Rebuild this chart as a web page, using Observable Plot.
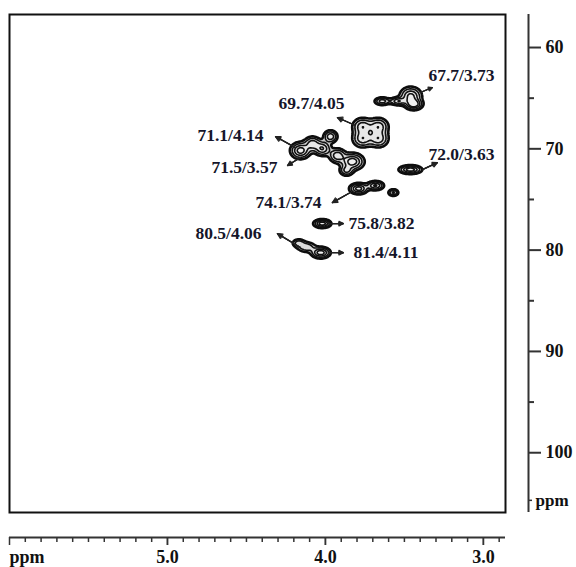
<!DOCTYPE html>
<html>
<head>
<meta charset="utf-8">
<script src="https://cdn.jsdelivr.net/npm/d3@7"></script>
<script src="https://cdn.jsdelivr.net/npm/@observablehq/plot@0.6"></script>
<style>
  html, body { margin: 0; padding: 0; background: #fff; }
</style>
</head>
<body>
<div id="chart"></div>
<script>
// ---- Data (1H ppm, 13C ppm) ----
// Cross-peak components (estimated from the spectrum)
const peakH   = [3.64, 3.54, 3.46, 3.44,   3.765, 3.665, 3.765, 3.665,   4.158, 4.082, 3.968, 4.019, 3.924, 3.829, 3.867,   3.462,   3.79, 3.684, 3.57,   4.02,   4.03, 4.12, 4.17];
const peakC   = [65.3, 65.3, 64.8, 65.6,  67.8, 67.8, 69.0, 69.0,    70.17, 69.48, 68.79, 69.98, 70.67, 71.26, 72.15,  72.05,   73.93, 73.63, 74.32, 77.38,  80.25, 79.7, 79.3];
const peakAmp = [0.7, 0.75, 0.9, 1.0,     0.75, 0.75, 0.75, 0.75,    0.95, 0.7, 0.75, 0.8, 0.75, 1.0, 0.6,            1.0,     0.95, 0.85, 0.6,     1.0,    1.0, 0.5, 0.42];
const peakSigH= [0.028, 0.03, 0.038, 0.03, 0.036, 0.036, 0.036, 0.036, 0.035, 0.03, 0.025, 0.03, 0.03, 0.04, 0.025,   0.039,   0.032, 0.03, 0.019,  0.03,   0.033, 0.035, 0.025];
const peakSigC= [0.22, 0.22, 0.5, 0.3,    0.48, 0.48, 0.48, 0.48,    0.45, 0.4, 0.35, 0.4, 0.4, 0.45, 0.3,             0.23,    0.3, 0.25, 0.2,      0.23,   0.3, 0.3, 0.25];

// Annotations
const labelText = ["67.7/3.73", "69.7/4.05", "71.1/4.14", "71.5/3.57", "72.0/3.63", "74.1/3.74", "75.8/3.82", "80.5/4.06", "81.4/4.11"];
const labelH    = [3.348, 4.297, 4.81, 4.722, 3.348, 4.443, 3.854, 4.823, 3.823];
const labelC    = [62.77, 65.53, 68.69, 71.85, 70.57, 75.31, 77.38, 78.37, 80.25];
const arrowH1   = [3.399, 3.81, 4.19, 4.158, 3.386, 3.842, 3.981, 4.158, 3.981];
const arrowC1   = [64.44, 67.70, 69.88, 70.86, 72.05, 74.32, 77.38, 79.75, 80.25];
const arrowH2   = [3.323, 3.924, 4.316, 4.24, 3.291, 3.956, 3.886, 4.304, 3.886];
const arrowC2   = [63.95, 66.91, 68.79, 71.65, 71.36, 75.31, 77.38, 78.37, 80.25];

// Axes
const xDomain = [6.0, 2.86];
const yDomain = [105.9, 56.74];
const xMajorTicks = [6.0, 5.0, 4.0, 3.0];
const xTickLabels = [5.0, 4.0, 3.0];
const xMinorTicks = [5.9,5.8,5.7,5.6,5.5,5.4,5.3,5.2,5.1,4.9,4.8,4.7,4.6,4.5,4.4,4.3,4.2,4.1,3.9,3.8,3.7,3.6,3.5,3.4,3.3,3.2,3.1,2.9];
const yMajorTicks = [60, 70, 80, 90, 100];
const yMinorTicks = [65, 75, 85, 95];
const yUnitTick = [104.7];

// ---- Build ----
const labels = labelText.map((t, i) => ({t, h: labelH[i], c: labelC[i]}));
const arrows = labelText.map((t, i) => ({h1: arrowH1[i], c1: arrowC1[i], h2: arrowH2[i], c2: arrowC2[i]}));

function intensity(h, c) {
  let s = 0;
  for (let i = 0; i < peakH.length; i++) {
    const dh = (h - peakH[i]) / peakSigH[i];
    const dc = (c - peakC[i]) / peakSigC[i];
    s += peakAmp[i] * Math.exp(-0.5 * (dh * dh + dc * dc));
  }
  return s;
}

const ink = "#15152a";
const arrowMarks = [55, 35, 15].map(a => Plot.arrow(arrows, {
  x1: "h1", y1: "c1", x2: "h2", y2: "c2",
  headLength: 7, headAngle: a, stroke: "#222", strokeWidth: 1.2
}));
const contourBase = {
  value: intensity,
  x1: xDomain[0], x2: xDomain[1], y1: yDomain[0], y2: yDomain[1],
  pixelSize: 1
};

const chart = Plot.plot({
  width: 576,
  height: 567,
  marginLeft: 9,
  marginRight: 71,
  marginTop: 14,
  marginBottom: 55,
  x: {domain: xDomain},
  y: {domain: yDomain},
  style: {fontFamily: "'Liberation Serif', 'DejaVu Serif', serif", fontWeight: "bold", fontSize: "18px", background: "#fff", color: "#111"},
  marks: [
    Plot.contour({...contourBase, thresholds: [0.15], stroke: "#0d0d0d", fill: "#9a9a9a", fillOpacity: 0.55, strokeWidth: 2.6}),
    Plot.contour({...contourBase, thresholds: [0.32, 0.55, 0.8], stroke: "#111", fill: "#fff", fillOpacity: 0.35, strokeWidth: 1.6}),
    ...arrowMarks,
    Plot.text(labels, {x: "h", y: "c", text: "t", textAnchor: "start", fill: ink, fontSize: 17.5, fontWeight: "bold"}),
    Plot.frame({stroke: "#111", strokeWidth: 2}),
    // right (13C) axis
    Plot.ruleX([xDomain[1]], {x: d => d, dx: 23, stroke: "#333", strokeWidth: 2}),
    Plot.axisY({anchor: "right", ticks: yMajorTicks, tickSize: 12, dx: 23, tickPadding: 5, tickFormat: d => String(d), stroke: "#333", strokeWidth: 2, fill: "#111", fontSize: 18}),
    Plot.axisY({anchor: "right", ticks: yMinorTicks, tickSize: 5, dx: 23, tickFormat: () => "", stroke: "#333", strokeWidth: 2}),
    Plot.axisY({anchor: "right", ticks: yUnitTick, tickSize: 3, dx: 23, tickPadding: 4, tickFormat: () => "ppm", stroke: "#333", strokeWidth: 1.5, fill: "#111", fontSize: 17}),
    // bottom (1H) axis
    Plot.ruleY([yDomain[0]], {y: d => d, dy: 25, stroke: "#333", strokeWidth: 2}),
    Plot.axisX({anchor: "bottom", ticks: xMinorTicks, tickSize: 5, dy: 25, tickFormat: () => "", stroke: "#333", strokeWidth: 1.5}),
    Plot.axisX({anchor: "bottom", ticks: xMajorTicks, tickSize: 8, dy: 25, tickFormat: () => "", stroke: "#333", strokeWidth: 1.5}),
    Plot.axisX({anchor: "bottom", ticks: xTickLabels, tickSize: 8, dy: 25, tickPadding: 5, tickFormat: d => d.toFixed(1), stroke: "#333", strokeWidth: 1.5, fill: "#111", fontSize: 18}),
    Plot.text([xDomain[0]], {x: d => d, frameAnchor: "bottom", dy: 38, lineAnchor: "top", textAnchor: "start", text: () => "ppm", fill: "#111", fontSize: 18})
  ]
});
document.getElementById("chart").appendChild(chart);
</script>
</body>
</html>
